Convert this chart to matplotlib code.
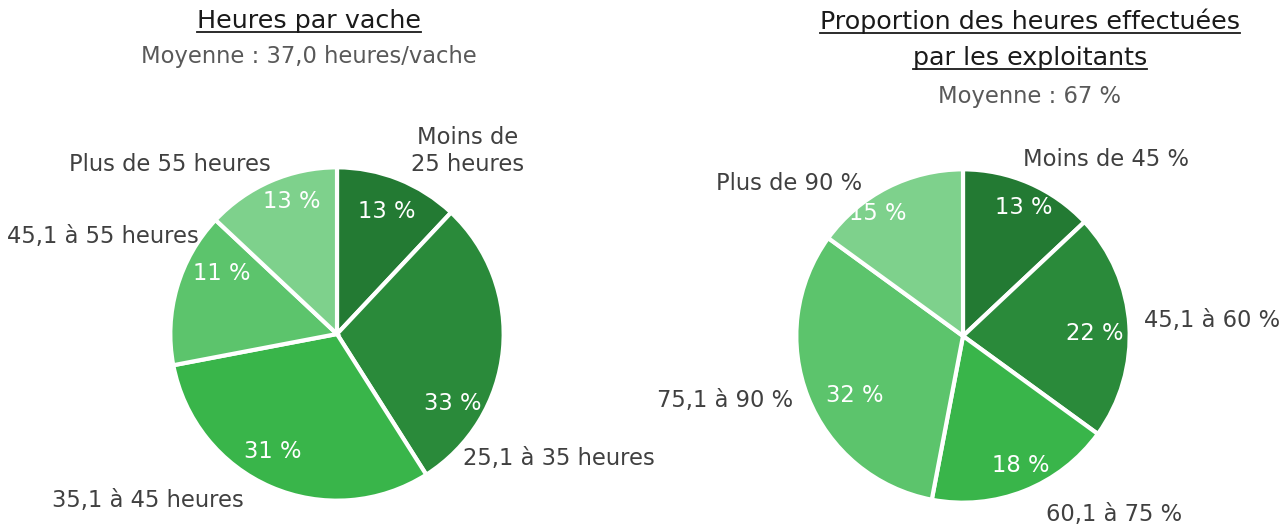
import matplotlib
matplotlib.use("Agg")
import matplotlib.pyplot as plt

# ---- data ----
left_categories = ["Moins de\n25 heures", "25,1 à 35 heures", "35,1 à 45 heures",
                   "45,1 à 55 heures", "Plus de 55 heures"]
# slice sizes as drawn in the reference, and the printed data labels
left_values = [12, 29, 31, 15, 13]
left_labels = [13, 33, 31, 11, 13]
right_categories = ["Moins de 45 %", "45,1 à 60 %", "60,1 à 75 %",
                    "75,1 à 90 %", "Plus de 90 %"]
right_values = [13, 22, 18, 32, 15]
right_labels = [13, 22, 18, 32, 15]
left_title = "Heures par vache"
left_subtitle = "Moyenne : 37,0 heures/vache"
right_title = ["Proportion des heures effectuées", "par les exploitants"]
right_subtitle = "Moyenne : 67 %"

colors = ["#237A33", "#2A8A3A", "#39B54A", "#5CC46C", "#7ED18C"]

W, H = 1285, 529
plt.rcParams['font.family'] = ['DejaVu Sans']
fig = plt.figure(figsize=(W / 100, H / 100), dpi=100)

def px(x, y):
    return x / W, 1 - y / H

def add_pie(cx, cy, r, values):
    l, b = px(cx - r, cy + r)
    ax = fig.add_axes([l, b, 2 * r / W, 2 * r / H])
    ax.pie(values, colors=colors, startangle=90, counterclock=False,
           radius=1, wedgeprops=dict(edgecolor="white", linewidth=3))
    ax.set_xlim(-1.02, 1.02)
    ax.set_ylim(-1.02, 1.02)
    ax.set_aspect("equal")
    ax.axis("off")
    return ax

add_pie(337, 334, 170, left_values)
add_pie(963, 336, 170, right_values)

lab_color = "#404040"
fs = 16.3

def ftext(x, y, s, **kw):
    fx, fy = px(x, y)
    kw.setdefault("ha", "center")
    kw.setdefault("va", "center")
    return fig.text(fx, fy, s, **kw)

# outside category labels
left_lab_pos = [(468, 151), (559, 458), (148, 500), (103, 236), (170, 164)]
right_lab_pos = [(1106, 160), (1212, 320), (1114, 515), (725, 401), (789, 184)]
for s, (x, y) in zip(left_categories, left_lab_pos):
    ftext(x, y, s, fontsize=fs, color=lab_color, linespacing=1.25)
for s, (x, y) in zip(right_categories, right_lab_pos):
    ftext(x, y, s, fontsize=fs, color=lab_color)

# inner percent labels
left_pct_pos = [(387, 211), (453, 404), (273, 451), (222, 273), (292, 202)]
right_pct_pos = [(1024, 208), (1095, 334), (1021, 465), (855, 396), (878, 213)]
for v, (x, y) in zip(left_labels, left_pct_pos):
    ftext(x, y, f"{v} %", fontsize=fs, color="white")
for v, (x, y) in zip(right_labels, right_pct_pos):
    ftext(x, y, f"{v} %", fontsize=fs, color="white")

# titles
title_color = "#1a1a1a"
sub_color = "#595959"
tfs = 18.3
titles = [ftext(309, 21, left_title, fontsize=tfs, color=title_color),
          ftext(1030, 21, right_title[0], fontsize=tfs, color=title_color),
          ftext(1030, 58, right_title[1], fontsize=tfs, color=title_color)]
ftext(309, 57, left_subtitle, fontsize=fs, color=sub_color)
ftext(1030, 96, right_subtitle, fontsize=fs, color=sub_color)

# underline titles
renderer = fig.canvas.get_renderer()
for t in titles:
    bb = t.get_window_extent(renderer=renderer)
    x0, x1 = bb.x0 / W, bb.x1 / W
    yline = (bb.y0 + 1) / H
    fig.add_artist(plt.Line2D([x0, x1], [yline, yline], transform=fig.transFigure,
                              color=title_color, linewidth=1.3))

fig.savefig("out.png", dpi=100, facecolor="white")
